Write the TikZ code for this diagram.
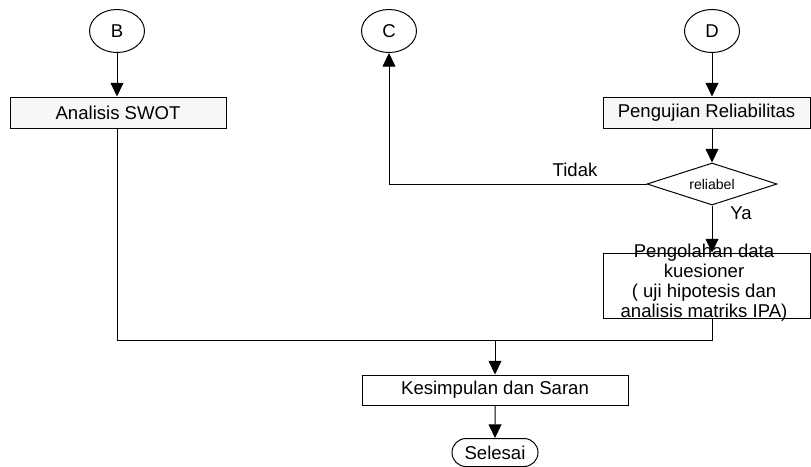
\documentclass[tikz,border=0pt]{standalone}
\usepackage{fontspec}
\setmainfont{Liberation Sans}
\usepackage{tikz}
\usetikzlibrary{positioning,arrows.meta,shapes.misc,shapes.geometric}

\begin{document}
\begin{tikzpicture}[
  >={Triangle[length=3.4mm,width=3.2mm]}, font=\fontsize{13.2}{14.4}\selectfont,
  conn/.style={ellipse, draw, line width=0.7pt, minimum width=13.75mm, minimum height=10.75mm, inner sep=0pt},
  proc/.style={rectangle, draw, line width=0.7pt, fill=gray!6, align=center, inner sep=2pt, minimum height=7.75mm},
  plain/.style={rectangle, draw, line width=0.7pt, fill=white, align=center, inner sep=0pt},
  dec/.style={diamond, draw, line width=0.7pt, aspect=3, inner sep=0pt, minimum width=32.5mm, minimum height=10.5mm,
              font=\fontsize{10}{12}\selectfont},
  term/.style={rounded rectangle, draw, line width=0.7pt, inner sep=0pt, minimum width=21.5mm, minimum height=7mm},
  e/.style={->, line width=0.7pt},
  lbl/.style={inner sep=1pt},
]
\useasboundingbox (0,0) rectangle (20.275,-11.65);
\node[conn] (B) at (2.925,-0.775) {B};
\node[conn] (C) at (9.725,-0.775) {C};
\node[conn] (D) at (17.8,-0.775) {D};
\node[proc,minimum width=54mm] (swot) at (2.95,-2.8125) {Analisis SWOT};
\node[proc,minimum width=51.75mm] (uji) at (17.6625,-2.8125) {Pengujian Reliabilitas};
\node[dec] (rel) at (17.8,-4.6) {reliabel};
\node[plain,minimum width=51.75mm,minimum height=16.25mm] (olah) at (17.6625,-7.1375) {};
\node[align=center,inner sep=0pt] (olahtxt) at (17.6,-7.07)
  {Pengolahan data\\kuesioner\\( uji hipotesis dan\\analisis matriks IPA)};
\node[plain,minimum width=66.5mm,minimum height=7.5mm] (kes) at (12.375,-9.75) {Kesimpulan dan Saran};
\node[term] (end) at (12.375,-11.3125) {Selesai};
\node[lbl] (tidak) at (14.375,-4.25) {Tidak};
\node[lbl] (ya) at (18.525,-5.325) {Ya};
\coordinate (join) at (12.375,-8.5);

\draw[e] (B) -- (B |- swot.north);
\draw[e] (D) -- (D |- uji.north);
\draw[e] (D |- uji.south) -- (rel.north);
\draw[e] (rel.west) -| (C);
\draw[e] (rel.south) -- (rel |- olah.north);
% both branches meet before the conclusion
\draw[line width=0.7pt] (B |- swot.south) |- (rel |- join) -- (rel |- olah.south);
\draw[e] (join) -- (kes);
\draw[e] (kes) -- (end);
\end{tikzpicture}
\end{document}
